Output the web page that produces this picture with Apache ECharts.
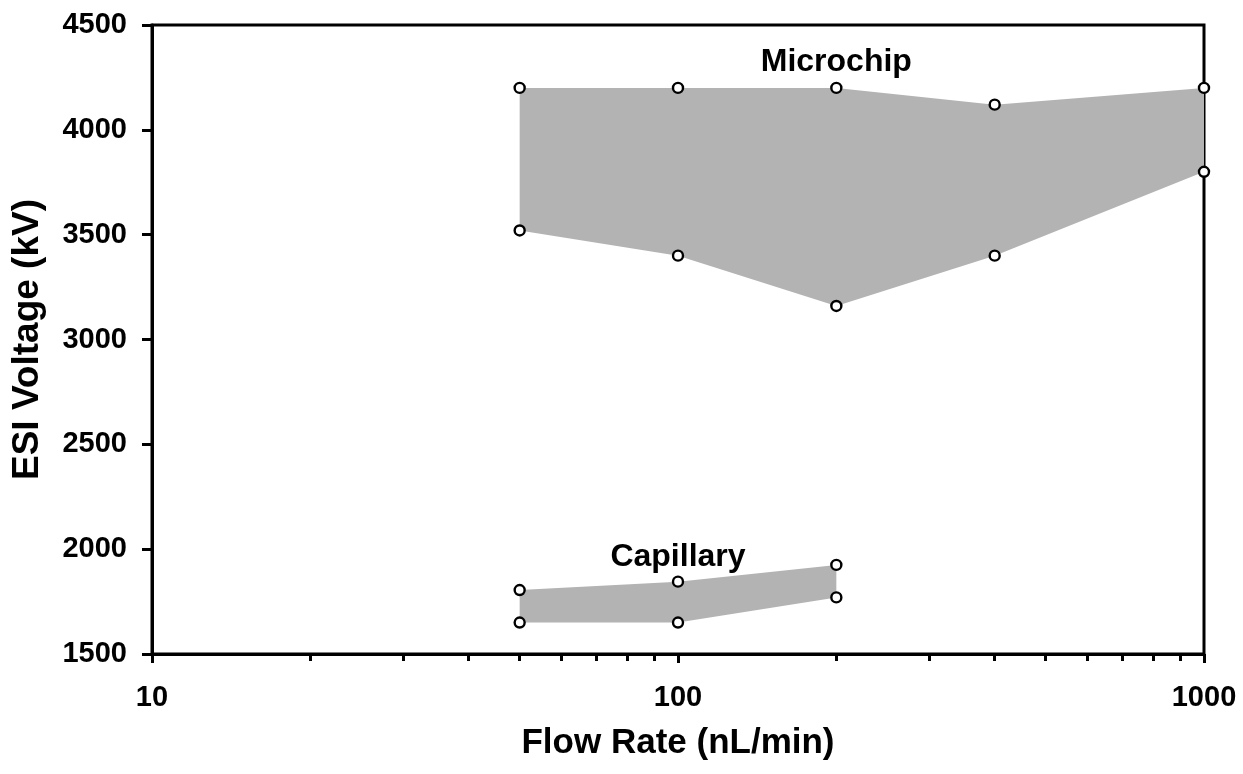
<!DOCTYPE html>
<html>
<head>
<meta charset="utf-8">
<script src="https://cdn.jsdelivr.net/npm/echarts@6/dist/echarts.min.js"></script>
<style>
html,body{margin:0;padding:0;background:#fff;}
#chart{width:1243px;height:774px;}
</style>
</head>
<body>
<div id="chart"></div>
<script>
// Data
const microchipFlow = [50, 100, 200, 400, 1000];
const microchipUpper = [4200, 4200, 4200, 4120, 4200];
const microchipLower = [3520, 3400, 3160, 3400, 3800];

const capillaryFlow = [50, 100, 200];
const capillaryUpper = [1805, 1845, 1925];
const capillaryLower = [1650, 1650, 1770];

const bandLabels = ['Microchip', 'Capillary'];
const bandLabelAnchors = [[200, 4322], [100, 1962]];

const xMajorTicks = [10, 100, 1000];
const xMinorTicks = [20, 30, 40, 50, 60, 70, 80, 90, 200, 300, 400, 500, 600, 700, 800, 900];

const FONT = 'Liberation Sans, Arial, Helvetica, sans-serif';

function bandSeries(flow, upper, lower) {
  return {
    type: 'custom',
    silent: true,
    z: 1,
    data: [0],
    renderItem: function (params, api) {
      const pts = [];
      for (let i = 0; i < flow.length; i++) pts.push(api.coord([flow[i], upper[i]]));
      for (let i = flow.length - 1; i >= 0; i--) pts.push(api.coord([flow[i], lower[i]]));
      return { type: 'polygon', shape: { points: pts }, style: { fill: '#b3b3b3', stroke: null } };
    }
  };
}

function pointSeries(flow, vals) {
  return {
    type: 'scatter',
    z: 5,
    symbol: 'circle',
    symbolSize: 10,
    itemStyle: { color: '#fff', borderColor: '#000', borderWidth: 2.4, opacity: 1 },
    data: flow.map((f, i) => [f, vals[i]])
  };
}

const chart = echarts.init(document.getElementById('chart'), null, { renderer: 'canvas' });
chart.setOption({
  backgroundColor: '#fff',
  animation: false,
  grid: { left: 152, right: 39, top: 25, bottom: 120, show: true, borderColor: '#000', borderWidth: 3, backgroundColor: 'transparent' },
  xAxis: [
    {
      type: 'log', logBase: 10, min: 10, max: 1000, position: 'bottom',
      name: 'Flow Rate (nL/min)', nameLocation: 'middle', nameGap: 72,
      nameTextStyle: { fontFamily: FONT, fontWeight: 'bold', fontSize: 35, color: '#000' },
      axisLine: { show: true, onZero: false, lineStyle: { color: '#000', width: 3 } },
      axisTick: { show: true, inside: false, length: 9, lineStyle: { color: '#000', width: 3 }, customValues: xMajorTicks },
      axisLabel: { show: true, margin: 29, fontFamily: FONT, fontWeight: 'bold', fontSize: 29, color: '#000', customValues: xMajorTicks, formatter: v => String(v) },
      splitLine: { show: false },
      minorTick: { show: false }
    },
    {
      type: 'log', logBase: 10, min: 10, max: 1000, position: 'bottom',
      axisLine: { show: false, onZero: false },
      axisTick: { show: true, inside: false, length: 7, lineStyle: { color: '#000', width: 3 }, customValues: xMinorTicks },
      axisLabel: { show: false },
      splitLine: { show: false }
    }
  ],
  yAxis: {
    type: 'value', min: 1500, max: 4500, interval: 500,
    name: 'ESI Voltage (kV)', nameLocation: 'middle', nameGap: 106, nameRotate: 90,
    nameTextStyle: { fontFamily: FONT, fontWeight: 'bold', fontSize: 37, color: '#000' },
    axisLine: { show: true, onZero: false, lineStyle: { color: '#000', width: 3 } },
    axisTick: { show: true, inside: false, length: 10, lineStyle: { color: '#000', width: 3 } },
    axisLabel: { margin: 25, fontFamily: FONT, fontWeight: 'bold', fontSize: 29, color: '#000', formatter: v => String(v) },
    splitLine: { show: false }
  },
  series: [
    bandSeries(microchipFlow, microchipUpper, microchipLower),
    bandSeries(capillaryFlow, capillaryUpper, capillaryLower),
    pointSeries(microchipFlow, microchipUpper),
    pointSeries(microchipFlow, microchipLower),
    pointSeries(capillaryFlow, capillaryUpper),
    pointSeries(capillaryFlow, capillaryLower),
    {
      type: 'scatter',
      z: 6,
      symbolSize: 1,
      silent: true,
      itemStyle: { opacity: 0 },
      data: bandLabelAnchors.map((a, i) => ({ value: a, name: bandLabels[i] })),
      label: {
        show: true, position: 'inside', formatter: p => p.name, opacity: 1,
        fontFamily: FONT, fontWeight: 'bold', fontSize: 32, color: '#000', textBorderWidth: 0
      }
    }
  ]
});
</script>
</body>
</html>
